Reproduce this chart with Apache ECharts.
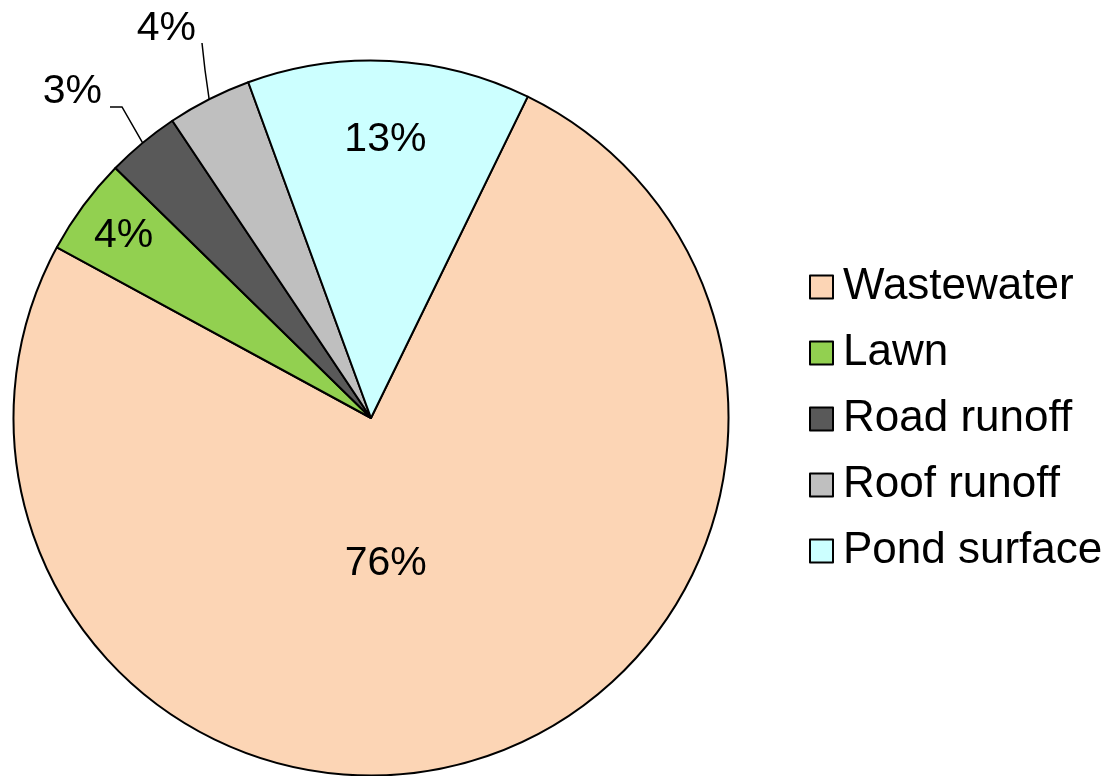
<!DOCTYPE html>
<html>
<head>
<meta charset="utf-8">
<title>Water sources</title>
<script src="https://cdn.jsdelivr.net/npm/echarts@6/dist/echarts.min.js"></script>
<style>
  html, body { margin: 0; padding: 0; background: #fff; }
  #chart { width: 1112px; height: 776px; }
</style>
</head>
<body>
<div id="chart"></div>
<script>
// data
const categories = ['Wastewater', 'Lawn', 'Road runoff', 'Roof runoff', 'Pond surface']
const shares = [75.7, 4.4, 3.3, 3.8, 12.8]
const sliceColors = ['#FCD5B5', '#92D050', '#595959', '#BFBFBF', '#CCFFFF']

// pie geometry (px)
const CX = 371, CY = 418, R = 357.5
const START = 64 // first slice starts 26deg clockwise from 12 o'clock

const total = shares.reduce((s, v) => s + v, 0)

// point on the mid line of slice i, at frac * R, optionally turned clockwise by shift deg
function slicePoint(i, frac, shift) {
    const before = shares.slice(0, i).reduce((s, v) => s + v, 0)
    const deg = START - 360 * (before + shares[i] / 2) / total - (shift || 0)
    const a = deg * Math.PI / 180
    return [CX + R * frac * Math.cos(a), CY - R * frac * Math.sin(a)]
}

// label placement: inside ones by radius fraction / turn, outside ones with leader lines
const insideSpot = {0: [0.41, 12], 1: [0.86, 0], 4: [0.78, 0]}
const outsideSpot = {
    2: {text: [102, 92], line: [[122, 107], [110, 107]]},
    3: {text: [196, 29], line: [[205, 70], [202, 43]]}
}

const chart = echarts.init(document.getElementById('chart'))

const seriesData = categories.map((name, i) => {
    const item = {name, value: shares[i], itemStyle: {color: sliceColors[i]}}
    if (outsideSpot[i]) {
        item.label = {position: 'outside'}
        item.labelLine = {show: true}
    }
    return item
})

const option = {
    animation: false,
    textStyle: {fontFamily: 'Liberation Sans, Arial, sans-serif'},
    legend: {
        orient: 'vertical',
        left: 804,
        top: 260,
        icon: 'rect',
        itemWidth: 23,
        itemHeight: 23,
        itemGap: 22,
        selectedMode: false,
        itemStyle: {borderColor: '#000', borderWidth: 2},
        textStyle: {
            fontSize: 44, lineHeight: 44, color: '#000', padding: [0, 0, 0, 5],
            fontFamily: 'Liberation Sans, Arial, sans-serif'
        },
        data: categories
    },
    series: [{
        type: 'pie',
        center: [CX, CY],
        radius: [0, R],
        startAngle: START,
        clockwise: true,
        avoidLabelOverlap: false,
        itemStyle: {borderColor: '#000', borderWidth: 2},
        emphasis: {disabled: true},
        label: {
            show: true,
            position: 'inside',
            fontSize: 41,
            color: '#000',
            fontFamily: 'Liberation Sans, Arial, sans-serif',
            formatter: p => Math.round(p.percent) + '%'
        },
        labelLine: {
            show: false,
            length: 40,
            length2: 12,
            lineStyle: {color: '#000', width: 1.5}
        },
        labelLayout: function (params) {
            const i = params.dataIndex
            if (insideSpot[i]) {
                const p = slicePoint(i, insideSpot[i][0], insideSpot[i][1])
                return {x: p[0], y: p[1], align: 'center', verticalAlign: 'middle'}
            }
            if (outsideSpot[i]) {
                const s = outsideSpot[i]
                return {
                    x: s.text[0],
                    y: s.text[1],
                    align: 'right',
                    verticalAlign: 'middle',
                    labelLinePoints: [slicePoint(i, 1, 0)].concat(s.line)
                }
            }
        },
        data: seriesData
    }]
}

chart.setOption(option)
</script>
</body>
</html>
